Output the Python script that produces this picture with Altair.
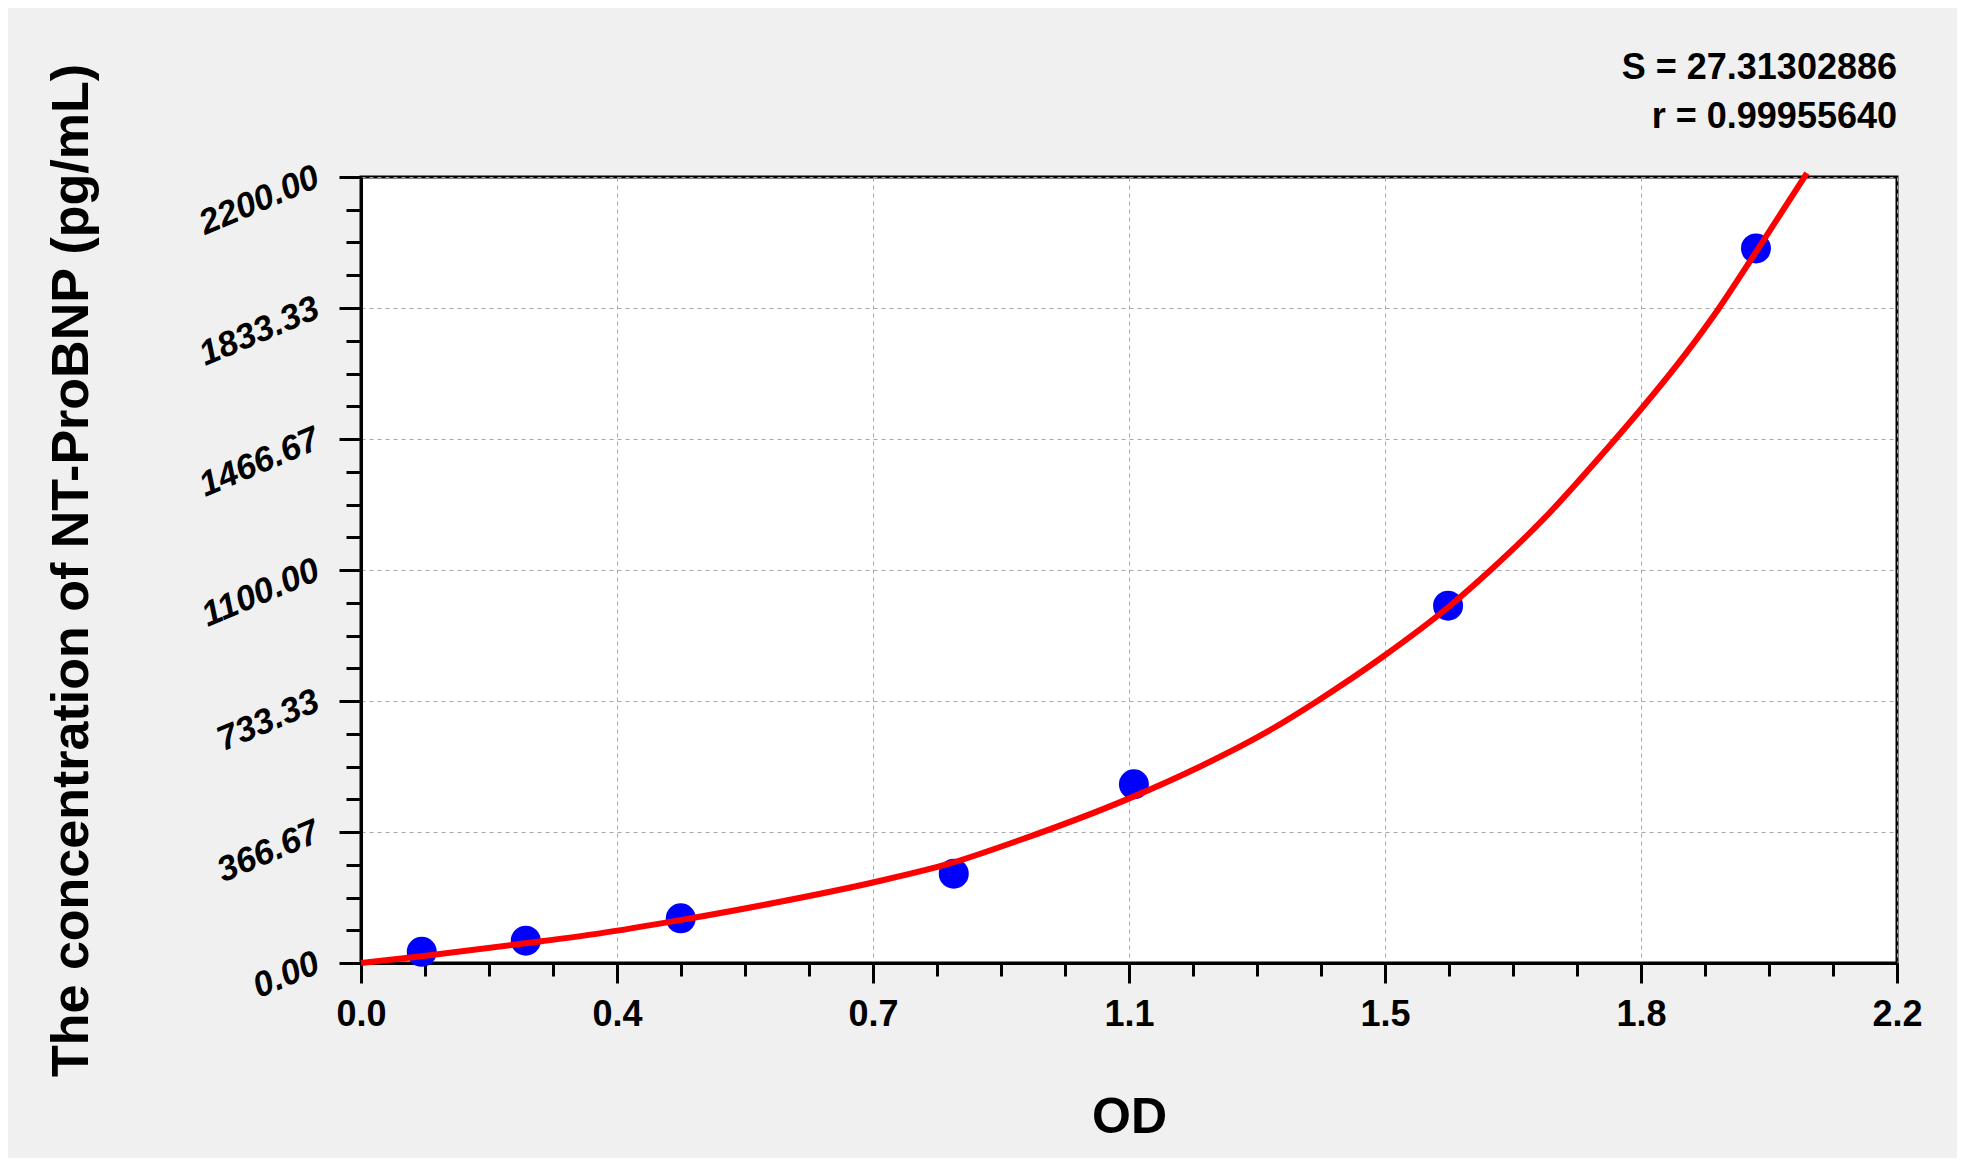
import altair as alt
import pandas as pd

# Standard points (OD vs concentration)
od_points = [0.087, 0.236, 0.458, 0.849, 1.107, 1.557, 1.998]
conc_points = [31.25, 62.5, 125, 250, 500, 1000, 2000]

# Fitted curve
curve_od = [0.0, 0.087, 0.235, 0.342, 0.457, 0.591, 0.730, 0.846, 0.945, 1.097, 1.202, 1.295,
            1.371, 1.462, 1.558, 1.618, 1.695, 1.785, 1.829, 1.898, 1.944, 1.998, 2.071]
curve_conc = [0, 19, 55, 83, 120, 168, 224, 280, 345, 458, 550, 644,
              735, 855, 997, 1100, 1245, 1440, 1540, 1707, 1830, 1990, 2211]

x_major = [0.0, 0.36667, 0.73333, 1.1, 1.46667, 1.83333, 2.2]
y_major = [0.0, 366.6667, 733.3333, 1100.0, 1466.6667, 1833.3333, 2200.0]
x_minor = [i * 2.2 / 24 for i in range(25)]
y_minor = [i * 2200.0 / 24 for i in range(25)]

stats_text = ["S = 27.31302886", "r = 0.99955640"]
x_title = "OD"
y_title = "The concentration of NT-ProBNP (pg/mL)"

pts = pd.DataFrame({"od": od_points, "conc": conc_points})
crv = pd.DataFrame({"od": curve_od, "conc": curve_conc})

FONT = "Liberation Sans, Arial, sans-serif"
xs = alt.Scale(domain=[0, 2.2], nice=False, zero=False)
ys = alt.Scale(domain=[0, 2200], nice=False, zero=False)

major_x_axis = alt.Axis(
    orient="bottom", values=x_major, format=".1f", title=x_title,
    grid=True, gridColor="#a8a8a8", gridDash=[4, 4], gridWidth=1,
    domain=True, domainColor="black", domainWidth=3,
    ticks=True, tickColor="black", tickWidth=3, tickSize=20,
    labelFont=FONT, labelFontSize=36, labelFontWeight="bold", labelColor="black",
    labelPadding=14, labelFlush=False,
    titleFont=FONT, titleFontSize=50, titleFontWeight="bold", titleColor="black",
    titleBaseline="alphabetic", titleY=169,
)
major_y_axis = alt.Axis(
    orient="left", values=y_major, format=".2f", title=y_title,
    grid=True, gridColor="#a8a8a8", gridDash=[4, 4], gridWidth=1,
    domain=True, domainColor="black", domainWidth=3,
    ticks=True, tickColor="black", tickWidth=3, tickSize=22,
    labelFont=FONT, labelFontSize=35, labelFontWeight="bold", labelFontStyle="italic",
    labelColor="black", labelAngle=-23, labelAlign="right", labelBaseline="middle",
    labelPadding=22, labelOffset=-2, labelFlush=False,
    titleFont=FONT, titleFontSize=52, titleFontWeight="bold", titleColor="black",
    titleBaseline="alphabetic", titleX=-274, titleAngle=-90,
)
minor_x_axis = alt.Axis(
    orient="bottom", values=x_minor, labels=False, title=None, grid=False,
    domain=False, ticks=True, tickColor="black", tickWidth=3, tickSize=13,
)
minor_y_axis = alt.Axis(
    orient="left", values=y_minor, labels=False, title=None, grid=False,
    domain=False, ticks=True, tickColor="black", tickWidth=3, tickSize=15,
)

points = alt.Chart(pts).mark_circle(color="#0000ff", size=900, opacity=1).encode(
    x=alt.X("od:Q", scale=xs, axis=major_x_axis),
    y=alt.Y("conc:Q", scale=ys, axis=major_y_axis),
)
line = alt.Chart(crv).mark_line(color="#ff0000", strokeWidth=6, interpolate="monotone", clip=False).encode(
    x=alt.X("od:Q", scale=xs, axis=minor_x_axis),
    y=alt.Y("conc:Q", scale=ys, axis=minor_y_axis),
)

chart = alt.layer(points, line).resolve_axis(x="independent", y="independent").properties(
    width=1536, height=786,
    autosize=alt.AutoSizeParams(type="none"),
    padding={"left": 353, "top": 169, "right": 60, "bottom": 195},
    background="#f0f0f0",
    title=alt.TitleParams(
        text=stats_text, anchor="end", align="right", font=FONT, fontSize=36,
        fontWeight="bold", color="black", lineHeight=49, offset=-21, dy=52, frame="group",
    ),
).configure_view(fill="white", stroke="black", strokeWidth=3)

chart.save("out.html", embed_options={"renderer": "svg", "actions": False})
